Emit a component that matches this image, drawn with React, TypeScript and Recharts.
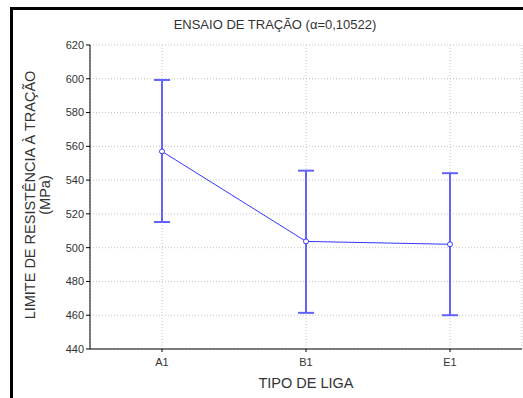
import { LineChart, Line, XAxis, YAxis, CartesianGrid, ErrorBar } from 'recharts'

const categories = ['A1', 'B1', 'E1']
const means = [557, 503.7, 502]
const lower = [515.2, 461.4, 460]
const upper = [599.3, 545.6, 544.1]
const yTicks = [440, 460, 480, 500, 520, 540, 560, 580, 600, 620]

const data = categories.map((name, i) => ({
  name,
  mean: means[i],
  err: [means[i] - lower[i], upper[i] - means[i]],
}))

const font = '"Liberation Sans", Arial, sans-serif'
const ink = '#333'
const blue = '#3535ff'
const tickStyle = { fill: ink, fontSize: 11, fontFamily: font }
const bandPad = { left: 72, right: 72 }
const noLabel = () => <g />

export default function App() {
  return (
    <div style={{ position: 'absolute', left: 0, top: 0, width: 523, height: 398, background: '#fff', overflow: 'hidden' }}>
      {/* black frame, cut off at right and bottom */}
      <div style={{ position: 'absolute', left: 10, top: 7, width: 3, height: 391, background: '#000' }} />
      <div style={{ position: 'absolute', left: 10, top: 7, width: 513, height: 3, background: '#000' }} />

      <div style={{ position: 'absolute', left: 75, top: 17, width: 400, textAlign: 'center', fontFamily: font, fontSize: 13, color: ink, whiteSpace: 'nowrap' }}>
        ENSAIO DE TRAÇÃO (α=0,10522)
      </div>

      <div style={{
        position: 'absolute', left: 39 - 150, top: 195 - 16, width: 300, height: 32,
        transform: 'rotate(-90deg)', textAlign: 'center', fontFamily: font, fontSize: 14.5,
        lineHeight: '15px', color: ink, whiteSpace: 'nowrap',
      }}>
        LIMITE DE RESISTÊNCIA À TRAÇÃO<br />(MPa)
      </div>

      <div style={{ position: 'absolute', left: 90, top: 375, width: 432, textAlign: 'center', fontFamily: font, fontSize: 14.5, color: ink }}>
        TIPO DE LIGA
      </div>

      <LineChart width={523} height={398} data={data} margin={{ top: 45, right: 1, bottom: 0, left: 0 }}>
        <CartesianGrid stroke="#c4c4c4" strokeDasharray="1 2" />
        <XAxis
          dataKey="name"
          height={49}
          padding={bandPad}
          tick={tickStyle}
          tickSize={3}
          tickMargin={6}
          axisLine={{ stroke: '#000' }}
          tickLine={{ stroke: '#000' }}
        />
        <XAxis
          xAxisId="top"
          dataKey="name"
          orientation="top"
          height={0}
          mirror
          padding={bandPad}
          tick={noLabel}
          tickSize={3}
          axisLine={{ stroke: '#000' }}
          tickLine={{ stroke: '#000' }}
        />
        <YAxis
          width={90}
          domain={[440, 620]}
          ticks={yTicks}
          interval={0}
          tick={tickStyle}
          tickSize={4}
          tickMargin={2}
          axisLine={{ stroke: '#000' }}
          tickLine={{ stroke: '#000' }}
        />
        <YAxis
          yAxisId="right"
          orientation="right"
          width={0}
          mirror
          domain={[440, 620]}
          ticks={yTicks}
          interval={0}
          tick={noLabel}
          tickSize={3}
          axisLine={{ stroke: '#000' }}
          tickLine={{ stroke: '#000' }}
        />
        <Line
          type="linear"
          dataKey="mean"
          stroke={blue}
          strokeWidth={1}
          dot={{ r: 2.5, fill: '#fff', stroke: blue, strokeWidth: 1 }}
          isAnimationActive={false}
        >
          <ErrorBar dataKey="err" direction="y" width={8} stroke="#6262ff" strokeWidth={2} isAnimationActive={false} />
        </Line>
      </LineChart>
    </div>
  )
}
